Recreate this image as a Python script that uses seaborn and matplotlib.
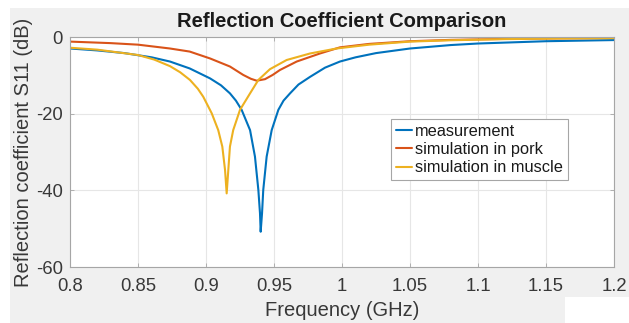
import numpy as np
import pandas as pd
import seaborn as sns
import matplotlib
matplotlib.use("Agg")
import matplotlib.pyplot as plt
from matplotlib.patches import Rectangle

# ---- data ----
meas_freq = [0.80, 0.82, 0.84, 0.86, 0.8735, 0.888, 0.903, 0.911, 0.9176, 0.922,
             0.9262, 0.9324, 0.936, 0.9385, 0.9397, 0.9402, 0.9412, 0.9421, 0.9446,
             0.9483, 0.9532, 0.957, 0.9618, 0.968, 0.9765, 0.9875, 0.9985, 1.01,
             1.025, 1.05, 1.08, 1.10, 1.15, 1.20]
meas_s11 = [-3.0, -3.5, -4.2, -5.3, -6.4, -8.2, -10.8, -12.6, -14.7, -16.6,
            -19.0, -24.3, -31.2, -39.9, -46.0, -50.8, -46.0, -39.9, -31.2,
            -24.3, -19.0, -16.6, -14.7, -12.4, -10.4, -8.0, -6.4, -5.3,
            -4.2, -3.0, -2.1, -1.7, -1.1, -0.8]

pork_freq = [0.80, 0.83, 0.85, 0.8735, 0.888, 0.903, 0.9176, 0.9274, 0.933, 0.9373,
             0.9434, 0.949, 0.9544, 0.9667, 0.9838, 0.9985, 1.02, 1.05, 1.08, 1.12,
             1.16, 1.20]
pork_s11 = [-1.2, -1.6, -2.0, -3.0, -3.8, -5.6, -7.7, -9.9, -10.9, -11.4,
            -11.0, -9.9, -8.6, -6.4, -4.3, -2.7, -1.8, -1.1, -0.75, -0.5,
            -0.35, -0.25]

muscle_freq = [0.80, 0.82, 0.85, 0.862, 0.8735, 0.881, 0.8882, 0.894, 0.898, 0.9042,
               0.909, 0.912, 0.914, 0.9152, 0.9164, 0.9176, 0.920, 0.925, 0.9324,
               0.9385, 0.947, 0.9593, 0.9765, 0.996, 1.02, 1.05, 1.08, 1.12, 1.16,
               1.20]
muscle_s11 = [-2.8, -3.3, -4.7, -5.9, -7.6, -9.2, -11.2, -13.5, -15.6, -19.9,
              -24.3, -28.6, -34.7, -40.8, -34.7, -28.6, -24.3, -19.0, -14.7,
              -11.2, -8.4, -6.0, -4.3, -3.0, -2.0, -1.2, -0.85, -0.55, -0.4,
              -0.3]

series_names = ["measurement", "simulation in pork", "simulation in muscle"]
colors = ["#0072BD", "#D95319", "#EDB120"]

x_ticks = [0.8, 0.85, 0.9, 0.95, 1.0, 1.05, 1.1, 1.15, 1.2]
x_tick_labels = ["0.8", "0.85", "0.9", "0.95", "1", "1.05", "1.1", "1.15", "1.2"]
y_ticks = [0, -20, -40, -60]

df = pd.concat([
    pd.DataFrame({"freq": meas_freq, "s11": meas_s11, "series": series_names[0]}),
    pd.DataFrame({"freq": pork_freq, "s11": pork_s11, "series": series_names[1]}),
    pd.DataFrame({"freq": muscle_freq, "s11": muscle_s11, "series": series_names[2]}),
], ignore_index=True)

sns.set_theme(style="white")
plt.rcParams["font.family"] = ["Liberation Sans", "DejaVu Sans"]
plt.rcParams["axes.unicode_minus"] = False

W, H = 629, 323
fig = plt.figure(figsize=(W / 100, H / 100), dpi=100, facecolor="white")
# grey MATLAB-like figure background with white margins
fig.patches.append(Rectangle((10 / W, 0), 1, (H - 8) / H, transform=fig.transFigure,
                             facecolor="#f0f0f0", edgecolor="none", zorder=-10))
fig.patches.append(Rectangle((565 / W, 0), 1, 26 / H, transform=fig.transFigure,
                             facecolor="white", edgecolor="none", zorder=-9))

ax = fig.add_axes([70 / W, 1 - 267 / H, (614 - 70) / W, (267 - 37) / H])
ax.set_facecolor("white")

sns.lineplot(data=df, x="freq", y="s11", hue="series", hue_order=series_names,
             palette=colors, estimator=None, sort=False, linewidth=1.5, ax=ax)
for ln in ax.get_lines():
    ln.set_solid_joinstyle("round")

ax.set_xlim(0.8, 1.2)
ax.set_ylim(-60, 0)
ax.set_xticks(x_ticks)
ax.set_xticklabels(x_tick_labels)
ax.set_yticks(y_ticks)
ax.grid(True, color="#e6e6e6", linewidth=0.8)
ax.set_axisbelow(True)
for s in ax.spines.values():
    s.set_visible(True)
    s.set_color("#a6a6a6")
    s.set_linewidth(0.8)
ax.tick_params(axis="both", which="both", direction="in", length=3, width=0.6,
               colors="#a6a6a6", labelcolor="#383838", labelsize=13.3,
               top=True, right=True, bottom=True, left=True)
ax.tick_params(axis="x", pad=8)
ax.tick_params(axis="y", pad=5)

ax.set_title("Reflection Coefficient Comparison", fontsize=14.5, fontweight="bold",
             color="#1a1a1a", pad=7)
ax.set_xlabel("Frequency (GHz)", fontsize=14.5, color="#383838", va="center")
ax.xaxis.set_label_coords(0.5, (267 - 310) / 230)
ax.set_ylabel("Reflection coefficient S11 (dB)", fontsize=14.5, color="#383838",
              va="center")
ax.yaxis.set_label_coords((24 - 70) / 544, 0.5)

leg = ax.legend(loc="upper left", bbox_to_anchor=((391 - 70) / 544, (267 - 119) / 230),
                frameon=True, fancybox=False, edgecolor="#a6a6a6", facecolor="white",
                framealpha=1, fontsize=11.8, handlelength=1.0, handletextpad=0.15,
                borderpad=0.3, labelspacing=0.2, borderaxespad=0)
leg.get_frame().set_linewidth(0.8)
for t in leg.get_texts():
    t.set_color("#1a1a1a")

fig.savefig("out.png", dpi=100, facecolor=fig.get_facecolor())
